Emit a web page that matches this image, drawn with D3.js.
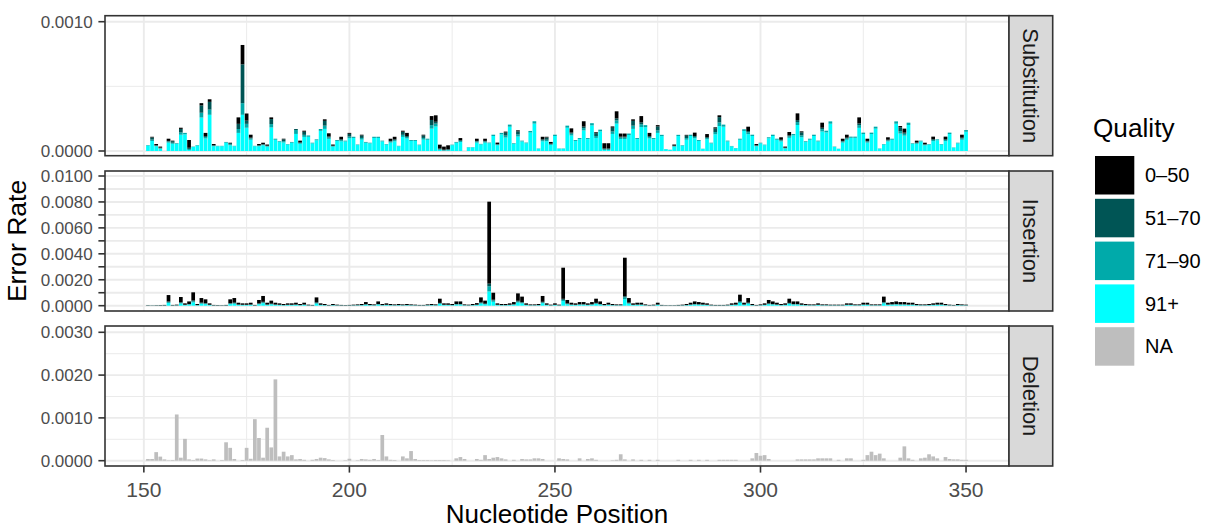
<!DOCTYPE html>
<html><head><meta charset="utf-8">
<script src="https://cdn.jsdelivr.net/npm/d3@7"></script>
<style>
body{margin:0;background:#fff}
text{font-family:"Liberation Sans",Arial,Helvetica,sans-serif}
</style>
</head><body>
<svg id="chart" width="1214" height="529"></svg>
<script>
// ---------------- DATA (values in units of 1e-6 error rate) ----------------
const UNIT = 1e-6;
const posStart = 151, posEnd = 350;
const positions = d3.range(posStart, posEnd + 1);
const qualityLevels = ["0–50", "51–70", "71–90", "91+"];
const qualityColors = ["#000000", "#005555", "#00AAAA", "#00FFFF"];
const naLabel = "NA", naColor = "#BEBEBE";
const facetNames = ["Substitution", "Insertion", "Deletion"];
const xTicks = [150, 200, 250, 300, 350];

// Substitution
const subQ0_50 = [
0,6,10,8,0,17,4,0,9,0, 60,0,0,18,25,20,10,0,0,0, 3,0,50,150,55,23,0,10,12,9,
13,0,0,5,0,0,0,14,8,0, 0,0,0,12,25,9,0,20,0,7, 0,0,6,0,0,0,0,0,0,17,
20,0,8,25,0,0,0,6,0,30, 50,30,24,30,0,0,18,0,0,0, 17,0,17,0,0,12,0,8,0,0,
8,0,0,0,0,0,20,6,13,0, 0,0,0,32,0,0,41,0,0,7, 0,40,40,10,55,24,24,0,12,0,
49,0,25,0,10,0,0,0,9,0, 0,6,0,26,0,0,24,0,9,14, 0,0,0,0,0,0,34,0,10,0,
0,0,0,0,19,8,26,0,52,8, 0,0,0,0,39,0,0,0,0,17, 23,0,0,47,0,17,0,0,0,0,
19,0,0,10,31,0,0,14,0,12, 0,20,0,0,20,0,0,0,23,0];
const subQ51_70 = [
0,16,3,4,0,5,12,0,27,0, 9,0,0,56,7,60,3,0,0,0, 10,0,40,300,25,6,0,3,3,3,
39,0,0,14,0,0,8,4,24,0, 0,0,0,37,7,3,0,6,0,21, 0,0,19,0,0,0,0,0,0,5,
6,0,24,7,0,0,0,19,0,40, 14,5,4,5,0,0,5,0,0,0, 5,0,5,0,0,3,0,23,0,0,
24,0,0,0,0,0,6,17,4,0, 0,0,0,9,0,0,12,0,0,22, 0,6,6,29,15,7,7,0,37,0,
14,0,7,0,30,0,0,0,3,0, 0,19,0,7,0,0,7,0,27,41, 0,0,0,0,0,0,9,0,3,0,
0,0,0,0,5,3,7,0,15,23, 0,0,0,0,11,0,0,0,0,5, 6,0,0,13,0,5,0,0,0,0,
5,0,0,29,9,0,0,4,0,3, 0,6,0,0,6,0,0,0,6,0];
const subQ71_90 = [
4,11,4,4,0,8,8,5,18,11, 8,3,4,37,11,40,4,3,3,6, 6,3,30,90,30,10,3,4,5,4,
26,8,6,10,4,6,30,6,16,10, 5,7,14,25,11,4,7,9,6,14, 9,4,13,6,5,9,9,6,4,8,
9,3,16,11,7,7,4,13,8,27, 22,5,3,4,4,6,8,0,2,2, 8,4,8,5,10,5,11,15,16,5,
16,6,5,12,18,2,9,11,6,10, 2,2,16,14,7,8,18,8,17,15, 13,6,6,19,25,11,11,11,25,8,
22,16,11,8,20,10,1,1,4,10, 4,13,10,11,7,1,10,5,18,28, 16,6,3,2,8,13,15,10,4,5,
4,8,10,8,8,3,12,10,23,15, 6,8,10,6,18,13,18,3,1,8, 10,9,9,21,11,8,11,15,2,4,
8,8,18,19,14,18,5,6,6,5, 4,9,7,4,9,11,2,5,10,13];
const subQ91 = [
42,77,37,18,0,65,56,55,126,129, 8,31,42,259,97,280,37,37,37,64, 45,37,140,280,180,87,37,37,44,34,
182,87,69,66,50,64,132,56,109,110, 59,83,156,171,94,34,78,75,74,98, 101,46,88,64,59,101,101,74,50,65,
75,37,109,97,78,78,45,88,87,173, 190,9,3,5,45,64,69,0,28,28, 65,51,65,60,116,45,129,104,188,55,
112,74,60,143,212,18,75,76,47,116, 18,18,180,120,78,92,159,92,198,101, 152,8,8,132,212,93,93,124,171,92,
185,184,97,92,140,115,14,9,34,115, 41,87,116,98,78,17,90,59,129,193, 188,74,36,21,87,155,130,116,37,59,
45,98,116,87,74,20,102,121,201,106, 69,87,116,74,151,144,211,31,17,65, 87,102,102,179,131,65,131,173,18,50,
74,87,211,135,119,201,54,56,74,44, 50,76,83,50,76,131,26,59,87,149];

// Insertion
const insQ0_50 = [
24,18,24,30,36,492,36,48,401,108, 199,618,79,354,295,108,36,30,24,36, 295,354,138,108,108,138,36,264,450,138,
234,138,108,79,108,108,138,79,138,48, 36,384,108,79,36,79,48,36,30,36, 48,60,79,168,79,60,199,79,108,79,
60,79,60,79,60,48,36,36,60,79, 60,324,108,108,79,199,199,60,48,79, 120,384,234,6320,540,108,79,79,108,168,
570,420,108,60,60,79,450,108,48,108, 48,2400,264,138,108,168,168,108,168,324, 199,79,138,79,60,60,2970,354,108,138,
138,60,36,48,138,36,24,24,24,36, 48,79,138,199,168,138,108,48,36,36, 36,48,108,138,510,138,354,79,36,60,
108,264,199,138,79,108,324,199,199,108, 79,60,60,108,60,60,48,48,48,48, 108,108,60,60,138,138,60,60,60,420,
138,168,199,168,168,138,138,79,60,60, 79,108,138,138,79,48,36,79,60,48];
const insQ51_70 = [
3,2,3,4,4,57,4,6,47,13, 23,72,9,41,34,13,4,4,3,4, 34,41,16,13,13,16,4,31,52,16,
27,16,13,9,13,13,16,9,16,6, 4,45,13,9,4,9,6,4,4,4, 6,7,9,20,9,7,23,9,13,9,
7,9,7,9,7,6,4,4,7,9, 7,38,13,13,9,23,23,7,6,9, 14,45,27,200,60,13,9,9,13,20,
66,49,13,7,7,9,52,13,6,13, 6,80,31,16,13,20,20,13,20,38, 23,9,16,9,7,7,80,41,13,16,
16,7,4,6,16,4,3,3,3,4, 6,9,16,23,20,16,13,6,4,4, 4,6,13,16,60,16,41,9,4,7,
13,31,23,16,9,13,38,23,23,13, 9,7,7,13,7,7,6,6,6,6, 13,13,7,7,16,16,7,7,7,49,
16,20,23,20,20,16,16,9,7,7, 9,13,16,16,9,6,4,9,7,6];
const insQ71_90 = [
3,2,3,4,5,66,5,6,54,14, 26,82,10,47,39,14,5,4,3,5, 39,47,18,14,14,18,5,35,60,18,
31,18,14,10,14,14,18,10,18,6, 5,51,14,10,5,10,6,5,4,5, 6,8,10,22,10,8,26,10,14,10,
8,10,8,10,8,6,5,5,8,10, 8,43,14,14,10,26,26,8,6,10, 16,51,31,400,100,14,10,10,14,22,
76,56,14,8,8,10,60,14,6,14, 6,100,35,18,14,22,22,14,22,43, 26,10,18,10,8,8,150,47,14,18,
18,8,5,6,18,5,3,3,3,5, 6,10,18,26,22,18,14,6,5,5, 5,6,14,18,68,18,47,10,5,8,
14,35,26,18,10,14,43,26,26,14, 10,8,8,14,8,8,6,6,6,6, 14,14,8,8,18,18,8,8,8,56,
18,22,26,22,22,18,18,10,8,8, 10,14,18,18,10,6,5,10,8,6];
const insQ91 = [
10,8,10,12,15,205,15,20,168,45, 82,258,32,148,122,45,15,12,10,15, 122,148,58,45,45,58,15,110,188,58,
98,58,45,32,45,45,58,32,58,20, 15,160,45,32,15,32,20,15,12,15, 20,25,32,70,32,25,82,32,45,32,
25,32,25,32,25,20,15,15,25,32, 25,135,45,45,32,82,82,25,20,32, 50,160,98,1100,300,45,32,32,45,70,
238,175,45,25,25,32,188,45,20,45, 20,350,110,58,45,70,70,45,70,135, 82,32,58,32,25,25,500,148,45,58,
58,25,15,20,58,15,10,10,10,15, 20,32,58,82,70,58,45,20,15,15, 15,20,45,58,212,58,148,32,15,25,
45,110,82,58,32,45,135,82,82,45, 32,25,25,45,25,25,20,20,20,20, 45,45,25,25,58,58,25,25,25,175,
58,70,82,70,70,58,58,32,25,25, 32,45,58,58,32,20,15,32,25,20];

// Deletion (quality NA)
const delNA = [
40,40,200,95,30,10,15,1080,70,510, 30,15,50,50,30,10,30,0,15,430, 300,40,0,15,300,45,970,530,70,770,
310,1900,100,210,100,130,30,40,20,0, 20,40,70,60,30,15,0,0,10,45, 0,10,40,30,20,40,15,600,100,20,
15,0,100,55,225,40,15,15,15,10, 15,15,15,10,0,55,85,40,0,0, 40,20,130,40,70,85,55,30,0,20,
0,40,30,30,55,55,40,0,0,0, 55,40,30,0,0,55,0,40,55,20, 0,0,0,10,20,150,30,0,30,0,
20,0,20,0,20,0,0,0,0,20, 0,0,20,0,20,0,20,0,0,20, 20,20,20,20,0,0,0,55,180,115,
130,40,0,0,0,0,0,0,30,30, 30,30,30,55,55,55,55,0,20,0, 55,55,0,0,20,130,210,130,165,55,
0,0,0,70,335,55,20,0,55,70, 150,100,55,0,85,40,30,30,20,20];

// axis ticks per facet
const subTicks = [0, 0.001], subTickLabels = ["0.0000", "0.0010"], subMinor = [0.0005];
const insTicks = [0,0.001,0.002,0.003,0.004,0.005,0.006,0.007,0.008,0.009,0.010];
const insTickLabels = ["0.0000","","0.0020","","0.0040","","0.0060","","0.0080","","0.0100"];
const insMinor = [];
const delTicks = [0, 0.001, 0.002, 0.003], delTickLabels = ["0.0000","0.0010","0.0020","0.0030"];
const delMinor = [0.0005, 0.0015, 0.0025];

// ---------------- LAYOUT ----------------
const svg = d3.select("#chart");
const panelLeft = 105, panelRight = 1009, stripRight = 1052.7;
const panels = [
  {top: 15.7, bottom: 155.7, domain: [-0.0000364, 0.0010464], ticks: subTicks, labels: subTickLabels, minor: subMinor,
   series: [subQ0_50, subQ51_70, subQ71_90, subQ91]},
  {top: 171, bottom: 311, domain: [-0.000409, 0.010386], ticks: insTicks, labels: insTickLabels, minor: insMinor,
   series: [insQ0_50, insQ51_70, insQ71_90, insQ91]},
  {top: 326, bottom: 466, domain: [-0.000124, 0.003147], ticks: delTicks, labels: delTickLabels, minor: delMinor,
   series: null}
];

const x = d3.scaleLinear().domain([140.55, 360.45]).range([panelLeft, panelRight]);
const xMinor = [175, 225, 275, 325];
const gridCol = "#EBEBEB", dark = "#333333";

panels.forEach((pn, fi) => {
  const y = d3.scaleLinear().domain(pn.domain).range([pn.bottom, pn.top]);
  const g = svg.append("g");
  g.append("rect").attr("x", panelLeft).attr("y", pn.top).attr("width", panelRight - panelLeft)
    .attr("height", pn.bottom - pn.top).attr("fill", "#fff");
  // minor grid
  g.selectAll(".hm").data(pn.minor).join("line").attr("x1", panelLeft).attr("x2", panelRight)
    .attr("y1", d => y(d)).attr("y2", d => y(d)).attr("stroke", gridCol).attr("stroke-width", 1);
  g.selectAll(".vm").data(xMinor).join("line").attr("y1", pn.top).attr("y2", pn.bottom)
    .attr("x1", d => x(d)).attr("x2", d => x(d)).attr("stroke", gridCol).attr("stroke-width", 1);
  // major grid
  g.selectAll(".hM").data(pn.ticks).join("line").attr("x1", panelLeft).attr("x2", panelRight)
    .attr("y1", d => y(d)).attr("y2", d => y(d)).attr("stroke", gridCol).attr("stroke-width", 1.9);
  g.selectAll(".vM").data(xTicks).join("line").attr("y1", pn.top).attr("y2", pn.bottom)
    .attr("x1", d => x(d)).attr("x2", d => x(d)).attr("stroke", gridCol).attr("stroke-width", 1.9);

  // bars
  const bw0 = x(0.45) - x(0);
  if (pn.series) {
    const rows = positions.map((p, i) => {
      const r = {pos: p};
      qualityLevels.forEach((q, k) => r[q] = pn.series[k][i] * UNIT);
      return r;
    });
    const keys = qualityLevels.slice().reverse(); // bottom: 91+, top: 0–50
    const stack = d3.stack().keys(keys)(rows);
    stack.forEach(layer => {
      const col = qualityColors[qualityLevels.indexOf(layer.key)];
      g.append("g").selectAll("rect").data(layer.filter(d => d[1] - d[0] > 0)).join("rect")
        .attr("x", d => x(d.data.pos - 0.45)).attr("width", 2 * bw0)
        .attr("y", d => y(d[1])).attr("height", d => y(d[0]) - y(d[1]))
        .attr("fill", col);
    });
  } else {
    const rows = positions.map((p, i) => ({pos: p, v: delNA[i] * UNIT})).filter(d => d.v > 0);
    g.append("g").selectAll("rect").data(rows).join("rect")
      .attr("x", d => x(d.pos - 0.45)).attr("width", 2 * bw0)
      .attr("y", d => y(d.v)).attr("height", d => y(0) - y(d.v)).attr("fill", naColor);
  }

  // panel border
  g.append("rect").attr("x", panelLeft).attr("y", pn.top).attr("width", panelRight - panelLeft)
    .attr("height", pn.bottom - pn.top).attr("fill", "none").attr("stroke", dark).attr("stroke-width", 1.6);

  // y axis ticks & labels
  g.selectAll(".yt").data(pn.ticks).join("line").attr("x1", panelLeft - 6.6).attr("x2", panelLeft)
    .attr("y1", d => y(d)).attr("y2", d => y(d)).attr("stroke", dark).attr("stroke-width", 1.6);
  g.selectAll(".yl").data(pn.ticks).join("text").attr("x", panelLeft - 12.3).attr("y", d => y(d) + 6)
    .attr("text-anchor", "end").attr("font-size", 17).attr("fill", "#4D4D4D")
    .text((d, i) => pn.labels[i]);

  // strip
  g.append("rect").attr("x", panelRight).attr("y", pn.top).attr("width", stripRight - panelRight)
    .attr("height", pn.bottom - pn.top).attr("fill", "#D9D9D9").attr("stroke", dark).attr("stroke-width", 1.6);
  const cx = (panelRight + stripRight) / 2, cy = (pn.top + pn.bottom) / 2;
  g.append("text").attr("transform", `translate(${cx - 7.5},${cy}) rotate(90)`)
    .attr("text-anchor", "middle").attr("font-size", 22).attr("fill", "#1A1A1A").text(facetNames[fi]);

  // x axis on bottom panel
  if (fi === panels.length - 1) {
    g.selectAll(".xt").data(xTicks).join("line").attr("x1", d => x(d)).attr("x2", d => x(d))
      .attr("y1", pn.bottom).attr("y2", pn.bottom + 6.6).attr("stroke", dark).attr("stroke-width", 1.6);
    g.selectAll(".xl").data(xTicks).join("text").attr("x", d => x(d)).attr("y", 497)
      .attr("text-anchor", "middle").attr("font-size", 21).attr("fill", "#4D4D4D").text(d => d);
  }
});

// axis titles
svg.append("text").attr("x", (panelLeft + panelRight) / 2).attr("y", 523).attr("text-anchor", "middle")
  .attr("font-size", 26).attr("fill", "#000").text("Nucleotide Position");
svg.append("text").attr("transform", `translate(26,241) rotate(-90)`).attr("text-anchor", "middle")
  .attr("font-size", 26.5).attr("fill", "#000").text("Error Rate");

// legend
const legX = 1095, legTop = 156, keyW = 39.3, keyH = 38.5, keyStep = 42.8;
svg.append("text").attr("x", 1093).attr("y", 137).attr("font-size", 26.2).attr("fill", "#000").text("Quality");
const legItems = qualityLevels.map((q, i) => ({label: q, color: qualityColors[i]}))
  .concat([{label: naLabel, color: naColor}]);
const lg = svg.append("g");
lg.selectAll("rect").data(legItems).join("rect")
  .attr("x", legX).attr("y", (d, i) => legTop + i * keyStep).attr("width", keyW).attr("height", keyH)
  .attr("fill", d => d.color);
lg.selectAll("text").data(legItems).join("text")
  .attr("x", 1145).attr("y", (d, i) => legTop + i * keyStep + keyH / 2 + 7)
  .attr("font-size", 20).attr("fill", "#000").text(d => d.label);
</script>
</body></html>
